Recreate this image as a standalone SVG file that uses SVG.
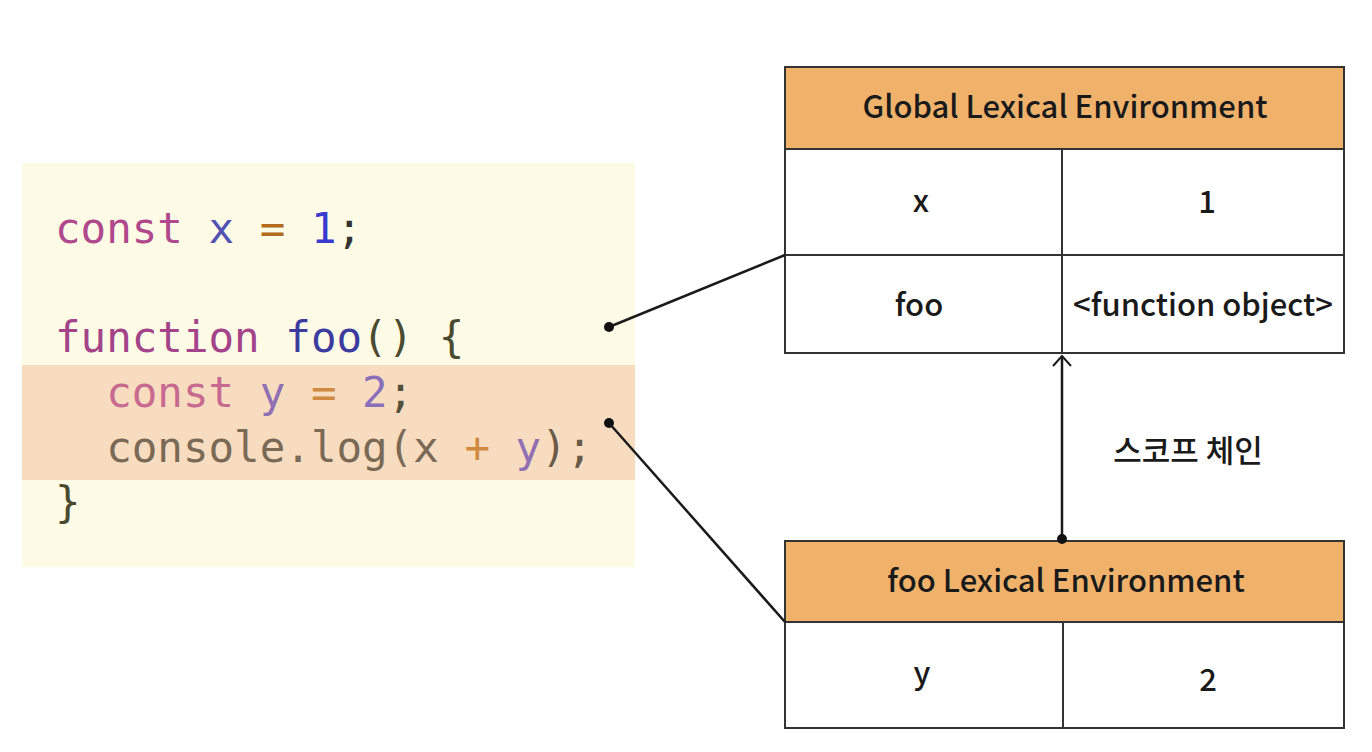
<svg xmlns="http://www.w3.org/2000/svg" width="1372" height="752" viewBox="0 0 1372 752">
<defs>
<style>
.code{font-family:"DejaVu Sans Mono","Liberation Mono",monospace;font-size:42.5px;}
.t{font-family:"Noto Sans CJK KR","Noto Sans",sans-serif;font-size:31px;font-weight:500;fill:#1a1a1a;text-anchor:middle;}
.cell{fill:#ffffff;stroke:#333;stroke-width:2;}
.hdr{fill:#f0b26b;stroke:#333;stroke-width:2;}
.ln{stroke:#1a1a1a;stroke-width:2.5;fill:none;}
</style>
<marker id="open" viewBox="0 0 20 20" refX="18" refY="10" markerWidth="20" markerHeight="20" markerUnits="userSpaceOnUse" orient="auto">
<path d="M8,1 L18,10 L8,19" fill="none" stroke="#1a1a1a" stroke-width="2"/>
</marker>
</defs>
<rect width="1372" height="752" fill="#ffffff"/>
<g id="code">
<rect x="22" y="163" width="613" height="404" fill="#fdfbe5"/>
<rect x="22" y="365" width="613" height="115" fill="#f8dcc0"/>
<text class="code" x="55" y="243" xml:space="preserve"><tspan fill="#b0488e">const</tspan> <tspan fill="#5252b5">x</tspan> <tspan fill="#b26a1c">=</tspan> <tspan fill="#3a3ad0">1</tspan><tspan fill="#333">;</tspan></text>
<text class="code" x="55" y="352" xml:space="preserve"><tspan fill="#a3448b">function</tspan> <tspan fill="#3c3ca0">foo</tspan><tspan fill="#4a4a30">() {</tspan></text>
<text class="code" x="55" y="407" xml:space="preserve">  <tspan fill="#c86a90">const</tspan> <tspan fill="#9070b2">y</tspan> <tspan fill="#d08a40">=</tspan> <tspan fill="#8a6fba">2</tspan><tspan fill="#55503a">;</tspan></text>
<text class="code" x="55" y="462" xml:space="preserve">  <tspan fill="#7a6a55">console.log(x</tspan> <tspan fill="#d08a40">+</tspan> <tspan fill="#9070b2">y</tspan><tspan fill="#6a5a48">);</tspan></text>
<text class="code" x="55" y="517" fill="#4a4a30">}</text>
</g>
<g id="global-env">
<rect class="hdr" x="785" y="67" width="559" height="82"/>
<rect class="cell" x="785" y="149" width="277" height="106"/>
<rect class="cell" x="1062" y="149" width="282" height="106"/>
<rect class="cell" x="785" y="255" width="277" height="98"/>
<rect class="cell" x="1062" y="255" width="282" height="98"/>
<text class="t" x="1065" y="118">Global Lexical Environment</text>
<text class="t" x="921" y="212">x</text>
<text class="t" x="1207" y="213">1</text>
<text class="t" x="919" y="316">foo</text>
<text class="t" x="1203" y="316">&lt;function object&gt;</text>
</g>
<g id="foo-env">
<rect class="hdr" x="785" y="541" width="559" height="81"/>
<rect class="cell" x="785" y="622" width="278" height="106"/>
<rect class="cell" x="1063" y="622" width="281" height="106"/>
<text class="t" x="1066" y="592">foo Lexical Environment</text>
<text class="t" x="922" y="684">y</text>
<text class="t" x="1208" y="691">2</text>
</g>
<g id="scope-label">
<text class="t" x="1188" y="462" font-weight="bold">스코프 체인</text>
</g>
<g id="connectors">
<line class="ln" x1="609" y1="327" x2="785" y2="255"/>
<circle cx="609" cy="327" r="5" fill="#111"/>
<line class="ln" x1="609" y1="423" x2="785" y2="622"/>
<circle cx="609" cy="423" r="5" fill="#111"/>
<line class="ln" x1="1062" y1="539" x2="1062" y2="356" marker-end="url(#open)"/>
<circle cx="1062" cy="539" r="5" fill="#111"/>
</g>
</svg>
